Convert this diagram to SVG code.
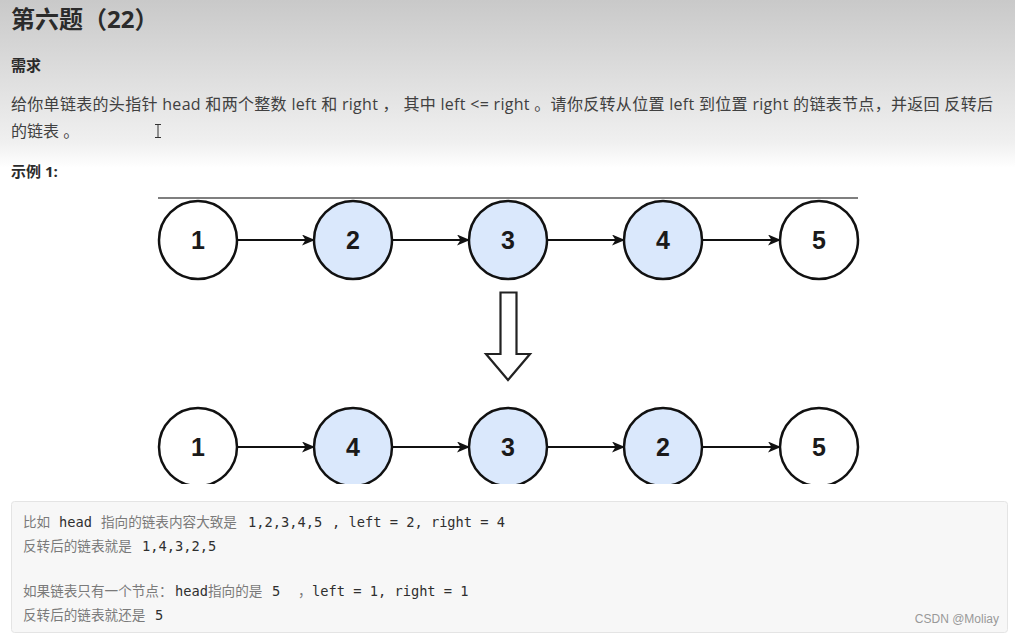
<svg xmlns="http://www.w3.org/2000/svg" width="1015" height="636" viewBox="0 0 1015 636">
<defs>
<linearGradient id="bg" x1="0" y1="0" x2="0" y2="1">
<stop offset="0" stop-color="#c9c9c9"/>
<stop offset="0.5" stop-color="#e0e0e0"/>
<stop offset="0.85" stop-color="#f0f0f0"/>
<stop offset="1" stop-color="#ffffff"/>
</linearGradient>
<marker id="ah" viewBox="0 0 13 11" refX="12" refY="5.5" markerWidth="13" markerHeight="11" markerUnits="userSpaceOnUse" orient="auto">
<path d="M0,0 L13,5.5 L0,11 L3.5,5.5 Z" fill="#111"/>
</marker>
<clipPath id="clipBottom"><rect x="0" y="380" width="1015" height="104"/></clipPath>
</defs>
<style>
.h1{font-family:"Open Sans","Noto Sans CJK SC",sans-serif;font-weight:bold;font-size:24px;fill:#2b2b2b}
.h2{font-family:"Open Sans","Noto Sans CJK SC",sans-serif;font-weight:bold;font-size:15px;fill:#2b2b2b}
.p{font-family:"Open Sans","Noto Sans CJK SC",sans-serif;font-size:16px;fill:#404040}
.node circle{stroke:#111;stroke-width:2.5}
.w{fill:#fff}
.b{fill:#dae8fc}
.node text{font-family:"Liberation Sans",Arial,sans-serif;font-weight:bold;font-size:25px;fill:#1a1a1a;text-anchor:middle}
.edge{stroke:#111;stroke-width:2;fill:none;marker-end:url(#ah)}
.code{font-family:"DejaVu Sans Mono","Noto Sans CJK SC",monospace;font-size:13.7px}
.cn{font-family:"Noto Sans CJK SC",sans-serif;fill:#7a7a7a;font-size:13.6px}
.cd{fill:#2f2f2f}
</style>
<rect x="0" y="0" width="1015" height="636" fill="#fff"/>
<rect x="0" y="0" width="1015" height="168" fill="url(#bg)"/>

<text class="h1" x="11" y="28">第六题（22）</text>
<text class="h2" x="11" y="71">需求</text>
<text class="p" x="11" y="110" textLength="982" lengthAdjust="spacing">给你单链表的头指针 head 和两个整数 left 和 right ， 其中 left &lt;= right 。请你反转从位置 left 到位置 right 的链表节点，并返回 反转后</text>
<text class="p" x="11" y="137">的链表 。</text>
<g id="cursor" stroke="#333" stroke-width="1" fill="none">
<path d="M155,124.5 H161 M158,124.5 V137.5 M155,137.5 H161"/>
</g>
<text class="h2" x="11" y="177">示例 1:</text>

<line x1="158" y1="198" x2="858" y2="198" stroke="#555" stroke-width="1.3"/>

<g id="connectors">
<line class="edge" x1="237" y1="240" x2="314" y2="240"/>
<line class="edge" x1="392" y1="240" x2="469" y2="240"/>
<line class="edge" x1="547" y1="240" x2="624" y2="240"/>
<line class="edge" x1="702" y1="240" x2="780" y2="240"/>
<line class="edge" x1="237" y1="447" x2="314" y2="447"/>
<line class="edge" x1="392" y1="447" x2="469" y2="447"/>
<line class="edge" x1="547" y1="447" x2="624" y2="447"/>
<line class="edge" x1="702" y1="447" x2="780" y2="447"/>
</g>

<g id="top-row">
<g id="t1" class="node"><circle class="w" cx="198" cy="240" r="39"/><text x="198" y="249">1</text></g>
<g id="t2" class="node"><circle class="b" cx="353" cy="240" r="39"/><text x="353" y="249">2</text></g>
<g id="t3" class="node"><circle class="b" cx="508" cy="240" r="39"/><text x="508" y="249">3</text></g>
<g id="t4" class="node"><circle class="b" cx="663" cy="240" r="39"/><text x="663" y="249">4</text></g>
<g id="t5" class="node"><circle class="w" cx="819" cy="240" r="39"/><text x="819" y="249">5</text></g>
</g>

<g id="down-arrow">
<path d="M500.5,292.5 H516.5 V354 H530 L508,380 L486,354 H500.5 Z" fill="#fff" stroke="#222" stroke-width="2.2" stroke-linejoin="miter"/>
</g>

<g id="bottom-row" clip-path="url(#clipBottom)">
<g id="b1" class="node"><circle class="w" cx="198" cy="447" r="39"/><text x="198" y="456">1</text></g>
<g id="b2" class="node"><circle class="b" cx="353" cy="447" r="39"/><text x="353" y="456">4</text></g>
<g id="b3" class="node"><circle class="b" cx="508" cy="447" r="39"/><text x="508" y="456">3</text></g>
<g id="b4" class="node"><circle class="b" cx="663" cy="447" r="39"/><text x="663" y="456">2</text></g>
<g id="b5" class="node"><circle class="w" cx="819" cy="447" r="39"/><text x="819" y="456">5</text></g>
</g>

<g id="code-box">
<rect x="11.5" y="501.5" width="996" height="131" rx="3" fill="#f7f7f7" stroke="#e4e4e4"/>
<text class="code" y="527"><tspan class="cn" x="23">比如</tspan><tspan class="cd" x="59">head</tspan><tspan class="cn" x="101">指向的链表内容大致是</tspan><tspan class="cd" x="248">1,2,3,4,5</tspan><tspan class="cd" x="332">, left = 2, right = 4</tspan></text>
<text class="code" y="551"><tspan class="cn" x="23">反转后的链表就是</tspan><tspan class="cd" x="142">1,4,3,2,5</tspan></text>
<text class="code" y="596"><tspan class="cn" x="23">如果链表只有一个节点：</tspan><tspan class="cd" x="175">head</tspan><tspan class="cn" x="208">指向的是</tspan><tspan class="cd" x="272">5</tspan><tspan class="cn" x="298">，</tspan><tspan class="cd" x="312">left = 1, right = 1</tspan></text>
<text class="code" y="620"><tspan class="cn" x="23">反转后的链表就还是</tspan><tspan class="cd" x="155">5</tspan></text>
<text x="999" y="623" text-anchor="end" font-family="Liberation Sans,Arial,sans-serif" font-size="12" fill="#999">CSDN @Moliay</text>
</g>
</svg>
